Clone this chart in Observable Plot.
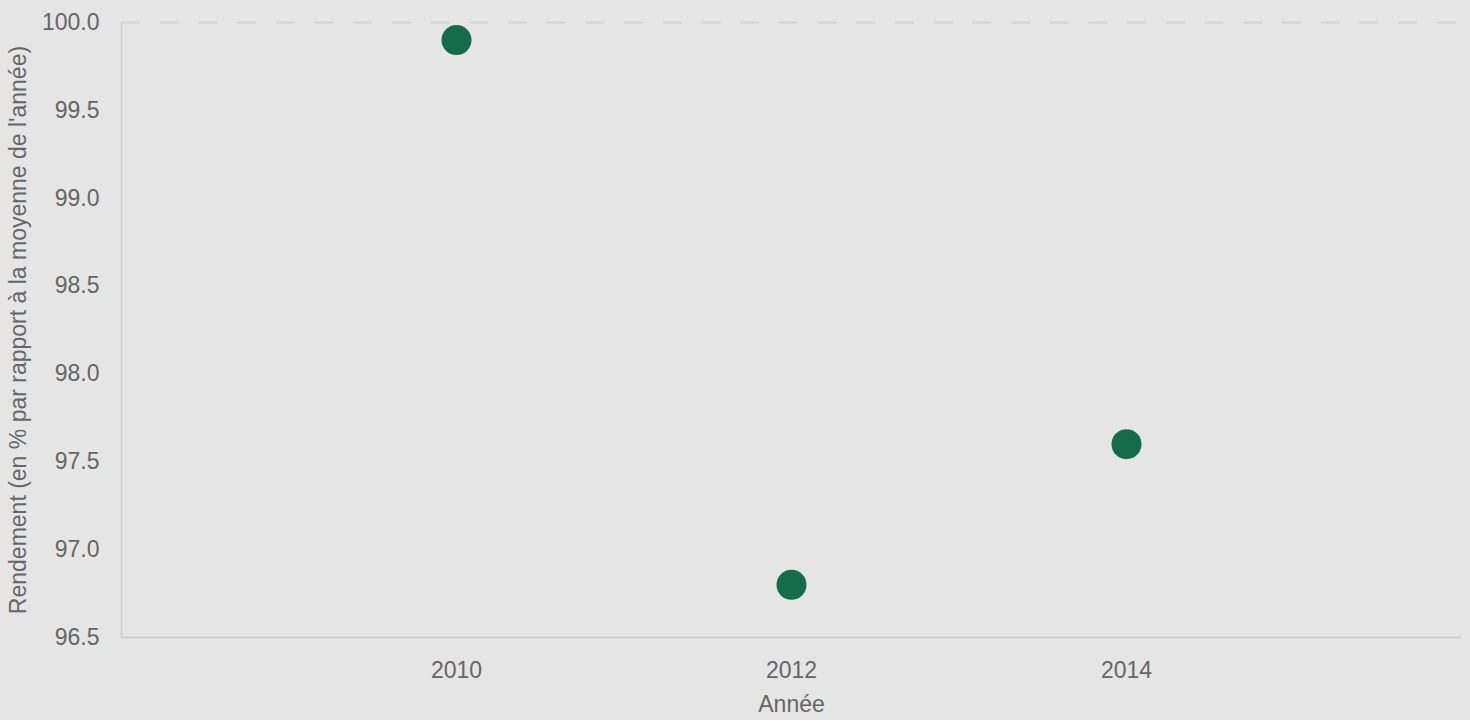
<!DOCTYPE html>
<html>
<head>
<meta charset="utf-8">
<script src="https://cdn.jsdelivr.net/npm/d3@7"></script>
<script src="https://cdn.jsdelivr.net/npm/@observablehq/plot@0.6"></script>
<style>
  html, body { margin: 0; padding: 0; background: #e5e5e5; }
  #chart svg { display: block; }
</style>
</head>
<body>
<div id="chart"></div>
<script>
const years = [2010, 2012, 2014];
const rendement = [99.9, 96.8, 97.6];
const xTicks = [2010, 2012, 2014];
const yTicks = [96.5, 97.0, 97.5, 98.0, 98.5, 99.0, 99.5, 100.0];

const data = years.map((y, i) => ({annee: y, rendement: rendement[i]}));

const chart = Plot.plot({
  width: 1470,
  height: 720,
  marginLeft: 121,
  marginRight: 9,
  marginTop: 22,
  marginBottom: 83,
  style: {background: "#e5e5e5", fontFamily: "Liberation Sans, Arial, sans-serif", fontSize: "23px", color: "#666"},
  x: {domain: [2008, 2016]},
  y: {domain: [96.5, 100]},
  marks: [
    Plot.ruleY([100], {stroke: "#d4d4d4", strokeWidth: 2, strokeDasharray: "19,19.7"}),
    Plot.ruleX([2008], {stroke: "#cccccc", strokeWidth: 1.5}),
    Plot.ruleY([96.5], {stroke: "#cccccc", strokeWidth: 1.5}),
    Plot.axisY(yTicks, {
      tickSize: 0, tickPadding: 22, tickFormat: d => d.toFixed(1),
      fill: "#666", fontSize: 23,
      label: "Rendement (en % par rapport à la moyenne de l'année)",
      labelAnchor: "center", labelArrow: "none", labelOffset: 112
    }),
    Plot.axisX(xTicks, {
      tickSize: 0, tickPadding: 24, tickFormat: d => String(d),
      fill: "#666", fontSize: 23,
      label: "Année", labelAnchor: "center", labelArrow: "none", labelOffset: 74
    }),
    Plot.dot(data, {x: "annee", y: "rendement", r: 15, fill: "#146c4d", stroke: "none"})
  ]
});
document.getElementById("chart").appendChild(chart);
</script>
</body>
</html>
